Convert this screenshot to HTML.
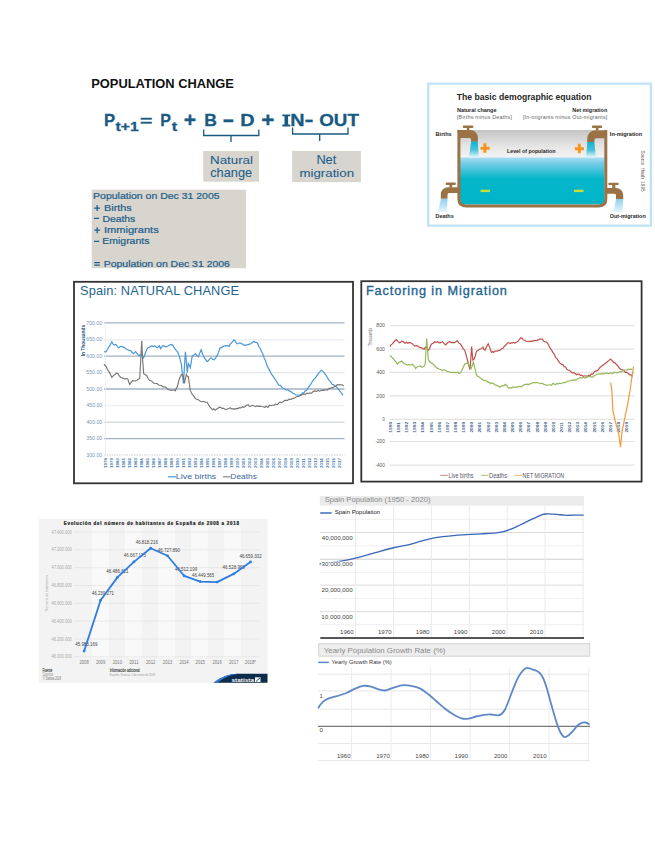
<!DOCTYPE html>
<html><head><meta charset="utf-8">
<style>
html,body{margin:0;padding:0;background:#fff;}
body{width:655px;height:848px;position:relative;overflow:hidden;}
svg{position:absolute;left:0;top:0;}
text{font-family:"Liberation Sans",sans-serif;white-space:pre;}
</style></head><body>
<svg width="655" height="848" viewBox="0 0 655 848">
<text transform="translate(91.26 87.50) scale(1.036 1)" font-size="12.43" font-weight="bold" fill="#111" >POPULATION CHANGE</text>
<text transform="translate(103.92 126.40) scale(0.966 1)" font-size="17.25" font-weight="bold" fill="#1a5a82" stroke="#1a5a82" stroke-width="0.3">P</text>
<text transform="translate(115.54 131.30) scale(1.303 1)" font-size="12.03" font-weight="bold" fill="#1a5a82" stroke="#1a5a82" stroke-width="0.3">t+1</text>
<text transform="translate(140.05 125.66) scale(1.438 1)" font-size="14.74" font-weight="bold" fill="#1a5a82" stroke="#1a5a82" stroke-width="0.3">=</text>
<text transform="translate(160.36 126.40) scale(0.926 1)" font-size="17.25" font-weight="bold" fill="#1a5a82" stroke="#1a5a82" stroke-width="0.3">P</text>
<text transform="translate(171.64 131.00) scale(1.321 1)" font-size="12.21" font-weight="bold" fill="#1a5a82" stroke="#1a5a82" stroke-width="0.3">t</text>
<text transform="translate(183.85 127.10) scale(1.059 1)" font-size="20.00" font-weight="bold" fill="#1a5a82" stroke="#1a5a82" stroke-width="0.3">+</text>
<text transform="translate(204.26 126.00) scale(1.052 1)" font-size="16.67" font-weight="bold" fill="#1a5a82" stroke="#1a5a82" stroke-width="0.3">B</text>
<text transform="translate(223.12 127.82) scale(0.738 1)" font-size="26.00" font-weight="bold" fill="#1a5a82" stroke="#1a5a82" stroke-width="0.3">–</text>
<text transform="translate(240.31 126.00) scale(1.190 1)" font-size="16.67" font-weight="bold" fill="#1a5a82" stroke="#1a5a82" stroke-width="0.3">D</text>
<text transform="translate(261.30 127.06) scale(1.163 1)" font-size="19.41" font-weight="bold" fill="#1a5a82" stroke="#1a5a82" stroke-width="0.3">+</text>
<path d="M282.3 114.5 H290.3 V116.3 H288.1 V124.6 H290.3 V126.4 H282.3 V124.6 H284.5 V116.3 H282.3 Z" fill="#1a5a82"/>
<text transform="translate(290.21 126.20) scale(1.169 1)" font-size="16.96" font-weight="bold" fill="#1a5a82" stroke="#1a5a82" stroke-width="0.3">N</text>
<text transform="translate(304.42 125.93) scale(1.412 1)" font-size="19.17" font-weight="bold" fill="#1a5a82" stroke="#1a5a82" stroke-width="0.3">-</text>
<text transform="translate(319.25 126.40) scale(1.105 1)" font-size="17.00" font-weight="bold" fill="#1a5a82" stroke="#1a5a82" stroke-width="0.3">OUT</text>
<path d="M203.7 129.5 V135.5 H258.8 V129.5 M231 135.5 V142" fill="none" stroke="#1a5a82" stroke-width="1.3"/>
<path d="M292.6 127.6 V134 H348 V127.6 M319.7 134 V140.9" fill="none" stroke="#1a5a82" stroke-width="1.3"/>
<rect x="203.2" y="151" width="55.8" height="30.7" fill="#d8d5cf"/>
<rect x="292.1" y="150.9" width="68.8" height="31.2" fill="#d8d5cf"/>
<text transform="translate(210.03 163.90) scale(1.137 1)" font-size="11.72" font-weight="normal" fill="#1d5f8a" stroke="#1d5f8a" stroke-width="0.08">Natural</text>
<text transform="translate(210.19 177.26) scale(0.981 1)" font-size="13.05" font-weight="normal" fill="#1d5f8a" stroke="#1d5f8a" stroke-width="0.08">change</text>
<text transform="translate(316.38 163.90) scale(1.063 1)" font-size="12.03" font-weight="normal" fill="#1d5f8a" stroke="#1d5f8a" stroke-width="0.08">Net</text>
<text transform="translate(299.44 177.27) scale(1.151 1)" font-size="11.55" font-weight="normal" fill="#1d5f8a" stroke="#1d5f8a" stroke-width="0.08">migration</text>
<rect x="91.7" y="189.7" width="154.4" height="78.5" fill="#d8d5cf"/>
<text transform="translate(93.06 199.40) scale(1.138 1)" font-size="9.24" font-weight="normal" fill="#1d5f8a" stroke="#1d5f8a" stroke-width="0.22">Population on Dec 31 2005</text>
<text transform="translate(104.03 210.65) scale(1.175 1)" font-size="9.24" font-weight="normal" fill="#1d5f8a" stroke="#1d5f8a" stroke-width="0.22">Births</text>
<text transform="translate(102.47 221.90) scale(1.123 1)" font-size="9.24" font-weight="normal" fill="#1d5f8a" stroke="#1d5f8a" stroke-width="0.22">Deaths</text>
<text transform="translate(104.00 233.15) scale(1.197 1)" font-size="9.24" font-weight="normal" fill="#1d5f8a" stroke="#1d5f8a" stroke-width="0.22">Immigrants</text>
<text transform="translate(102.26 244.40) scale(1.135 1)" font-size="9.24" font-weight="normal" fill="#1d5f8a" stroke="#1d5f8a" stroke-width="0.22">Emigrants</text>
<path d="M94.1 208 H100.1 M97.1 205 V211 M94 218.4 H99.1 M94.3 230.2 H100.1 M97.2 227.2 V233.2 M94 241.4 H99.2 M94.3 262.6 H99.8 M94.3 265.2 H99.8" stroke="#1d5f8a" stroke-width="1.25" fill="none"/>
<text transform="translate(103.76 266.90) scale(1.133 1)" font-size="9.24" font-weight="normal" fill="#1d5f8a" stroke="#1d5f8a" stroke-width="0.22">Population on Dec 31 2006</text>
<rect x="428.2" y="83.7" width="222.6" height="142" fill="#fff" stroke="#bfe4f6" stroke-width="2.3"/>
<defs>
<linearGradient id="air" x1="0" y1="0" x2="0" y2="1"><stop offset="0" stop-color="#c4c4c4"/><stop offset="0.6" stop-color="#e6e6e6"/><stop offset="1" stop-color="#f4f4f4"/></linearGradient>
<linearGradient id="wat" x1="0" y1="0" x2="0" y2="1"><stop offset="0" stop-color="#a8def4"/><stop offset="0.12" stop-color="#78cde8"/><stop offset="0.45" stop-color="#05b6c9"/><stop offset="1" stop-color="#00b4c7"/></linearGradient>
<linearGradient id="jet" x1="0" y1="0" x2="0" y2="1"><stop offset="0" stop-color="#10b2cc"/><stop offset="0.55" stop-color="#4cc4dc"/><stop offset="1" stop-color="#e8f7fb"/></linearGradient>
<linearGradient id="jet2" x1="0" y1="0" x2="0" y2="1"><stop offset="0" stop-color="#8fd0ee"/><stop offset="1" stop-color="#e6f5fb"/></linearGradient>
</defs>
<rect x="460" y="130" width="145" height="28" fill="url(#air)"/>
<path d="M460 157.5 H604.5 V199 Q604.5 204.5 599 204.5 H466 Q460 204.5 460 199 Z" fill="url(#wat)"/>
<path d="M458.9 129.9 V199 Q458.9 205.9 466 205.9 H599 Q605.8 205.9 605.8 199 V129.9" fill="none" stroke="#9a7246" stroke-width="3"/>
<path d="M457.3 130.1 H470.3 A7.6 7.6 0 0 1 477.9 137.7 V141.7 H471 V139.6 Q471 138 469.4 138 H459 Z" fill="#9a7246"/>
<rect x="466.8" y="127.5" width="2.5" height="3" fill="#9a7246"/><rect x="462.8" y="125.6" width="10.6" height="2.5" rx="1" fill="#9a7246"/>
<path d="M471.2 141.5 H477.8 L478.7 157.3 H468.9 Z" fill="url(#jet)"/>
<path d="M607 130.4 H595 A7.8 7.8 0 0 0 587.2 138.2 V142 H594.5 V139.9 Q594.5 138.3 596.1 138.3 H605 Z" fill="#9a7246"/>
<rect x="595.8" y="127.5" width="2.7" height="3" fill="#9a7246"/><rect x="591.9" y="125.5" width="10.2" height="2.5" rx="1" fill="#9a7246"/>
<path d="M587.4 142 H594.3 L596 157.3 H586 Z" fill="url(#jet)"/>
<path d="M458 187.2 H448 A7.2 7.2 0 0 0 440.8 194.4 V198.8 H447.5 V194.7 Q447.5 193.1 449.1 193.1 H458 Z" fill="#9a7246"/>
<rect x="449.4" y="184.5" width="2.8" height="3" fill="#9a7246"/><rect x="445.7" y="182.6" width="10.1" height="2.3" rx="1" fill="#9a7246"/>
<path d="M441 198.8 H447.5 L447 212 H438 Z" fill="url(#jet2)"/>
<path d="M606.5 187.9 H616 A7.2 7.2 0 0 1 623.2 195.1 V198.9 H616 V195.4 Q616 193.8 614.4 193.8 H606.5 Z" fill="#9a7246"/>
<rect x="612.2" y="184.7" width="3.2" height="3.3" fill="#9a7246"/><rect x="608.3" y="182.7" width="10.4" height="2.3" rx="1" fill="#9a7246"/>
<path d="M616 198.9 H623.2 L622.5 212 H613.5 Z" fill="url(#jet2)"/>
<path d="M484.9 143.3 V152.8 M480.5 148.2 H489.7" stroke="#f7941d" stroke-width="3"/>
<path d="M579.3 143.8 V153.3 M574.9 148.7 H584" stroke="#f7941d" stroke-width="3"/>
<path d="M480.5 190.9 H490" stroke="#c4df3a" stroke-width="2.4"/>
<path d="M573.9 190.9 H583.6" stroke="#c4df3a" stroke-width="2.4"/>
<text transform="translate(456.71 100.09) scale(0.951 1)" font-size="9.09" font-weight="bold" fill="#262626" >The basic demographic equation</text>
<text transform="translate(456.94 112.27) scale(1.115 1)" font-size="4.92" font-weight="bold" fill="#262626" >Natural change</text>
<text transform="translate(456.92 118.60) scale(1.150 1)" font-size="4.69" font-weight="normal" fill="#666"  letter-spacing="0.166">[Births minus Deaths]</text>
<text transform="translate(572.25 112.27) scale(1.106 1)" font-size="4.92" font-weight="bold" fill="#262626" >Net migration</text>
<text transform="translate(522.92 118.60) scale(1.150 1)" font-size="4.69" font-weight="normal" fill="#666"  letter-spacing="0.167">[In-migrants minus Out-migrants]</text>
<text transform="translate(435.54 135.70) scale(1.015 1)" font-size="5.52" font-weight="bold" fill="#262626" >Births</text>
<text transform="translate(609.84 135.95) scale(1.029 1)" font-size="5.45" font-weight="bold" fill="#262626" >In-migration</text>
<text transform="translate(435.54 218.40) scale(0.924 1)" font-size="5.93" font-weight="bold" fill="#262626" >Deaths</text>
<text transform="translate(609.78 218.30) scale(1.041 1)" font-size="5.24" font-weight="bold" fill="#262626" >Out-migration</text>
<text transform="translate(506.96 153.23) scale(0.953 1)" font-size="5.56" font-weight="bold" fill="#262626" >Level of population</text>
<g transform="translate(640.2 150.6) rotate(90)"><text transform="translate(-0.21 -0.76) scale(0.794 1)" font-size="5.85" font-weight="normal" fill="#555" >Source: Haub, 1995</text></g>
<rect x="74" y="281.8" width="279" height="201.5" fill="none" stroke="#333" stroke-width="1.8"/>
<text transform="translate(80.12 295.30) scale(1.000 1)" font-size="12.83" font-weight="normal" fill="#1f6590"  letter-spacing="0.109">Spain: NATURAL CHANGE</text>
<line x1="104" y1="322.9" x2="344.5" y2="322.9" stroke="#a3b1c4" stroke-width="1.4"/>
<line x1="104" y1="339.8" x2="344.5" y2="339.8" stroke="#eceff3" stroke-width="1.4"/>
<line x1="104" y1="356.1" x2="344.5" y2="356.1" stroke="#a3b1c4" stroke-width="1.4"/>
<line x1="104" y1="372.6" x2="344.5" y2="372.6" stroke="#e3e7ec" stroke-width="1.4"/>
<line x1="104" y1="389" x2="344.5" y2="389" stroke="#a3b1c4" stroke-width="1.4"/>
<line x1="104" y1="405.5" x2="344.5" y2="405.5" stroke="#f0f2f5" stroke-width="1.4"/>
<line x1="104" y1="422.2" x2="344.5" y2="422.2" stroke="#d6dde6" stroke-width="1.4"/>
<line x1="104" y1="438.6" x2="344.5" y2="438.6" stroke="#a3b1c4" stroke-width="1.4"/>
<line x1="104" y1="455" x2="344.5" y2="455" stroke="#c8ccd8" stroke-width="1" stroke-dasharray="1.5 1"/>
<line x1="105.5" y1="322" x2="105.5" y2="455" stroke="#e8ecf0" stroke-width="0.8"/>
<text transform="translate(86.24 324.65) scale(1.028 1)" font-size="5.07" font-weight="normal" fill="#3a6a9a" opacity="0.7">700.00</text>
<text transform="translate(86.24 341.15) scale(1.028 1)" font-size="5.07" font-weight="normal" fill="#3a6a9a" opacity="0.7">650.00</text>
<text transform="translate(86.24 357.65) scale(1.028 1)" font-size="5.07" font-weight="normal" fill="#3a6a9a" opacity="0.7">600.00</text>
<text transform="translate(86.29 374.15) scale(1.024 1)" font-size="5.07" font-weight="normal" fill="#3a6a9a" opacity="0.7">550.00</text>
<text transform="translate(86.29 390.65) scale(1.024 1)" font-size="5.07" font-weight="normal" fill="#3a6a9a" opacity="0.7">500.00</text>
<text transform="translate(86.40 407.15) scale(1.017 1)" font-size="5.07" font-weight="normal" fill="#3a6a9a" opacity="0.7">450.00</text>
<text transform="translate(86.40 423.65) scale(1.017 1)" font-size="5.07" font-weight="normal" fill="#3a6a9a" opacity="0.7">400.00</text>
<text transform="translate(86.29 440.15) scale(1.024 1)" font-size="5.07" font-weight="normal" fill="#3a6a9a" opacity="0.7">350.00</text>
<text transform="translate(86.29 456.65) scale(1.024 1)" font-size="5.07" font-weight="normal" fill="#3a6a9a" opacity="0.7">300.00</text>
<g transform="translate(85.3 356) rotate(-90)"><text transform="translate(-0.32 -0.05) scale(0.914 1)" font-size="5.31" font-weight="bold" fill="#2a5a8a" >In Thousands</text></g>
<g transform="translate(107.40 467.8) rotate(-90)"><text transform="translate(-0.27 0.00) scale(1.211 1)" font-size="3.71" font-weight="bold" fill="#2e6aa6" opacity="0.9">1978</text></g>
<g transform="translate(113.39 467.8) rotate(-90)"><text transform="translate(-0.27 0.00) scale(1.213 1)" font-size="3.71" font-weight="bold" fill="#2e6aa6" opacity="0.9">1979</text></g>
<g transform="translate(119.38 467.8) rotate(-90)"><text transform="translate(-0.27 0.00) scale(1.216 1)" font-size="3.71" font-weight="bold" fill="#2e6aa6" opacity="0.9">1980</text></g>
<g transform="translate(125.37 467.8) rotate(-90)"><text transform="translate(-0.27 0.00) scale(1.208 1)" font-size="3.71" font-weight="bold" fill="#2e6aa6" opacity="0.9">1981</text></g>
<g transform="translate(131.36 467.8) rotate(-90)"><text transform="translate(-0.27 0.00) scale(1.216 1)" font-size="3.71" font-weight="bold" fill="#2e6aa6" opacity="0.9">1982</text></g>
<g transform="translate(137.35 467.8) rotate(-90)"><text transform="translate(-0.27 0.00) scale(1.213 1)" font-size="3.71" font-weight="bold" fill="#2e6aa6" opacity="0.9">1983</text></g>
<g transform="translate(143.34 467.8) rotate(-90)"><text transform="translate(-0.27 0.00) scale(1.197 1)" font-size="3.71" font-weight="bold" fill="#2e6aa6" opacity="0.9">1984</text></g>
<g transform="translate(149.33 467.8) rotate(-90)"><text transform="translate(-0.27 0.00) scale(1.208 1)" font-size="3.71" font-weight="bold" fill="#2e6aa6" opacity="0.9">1985</text></g>
<g transform="translate(155.32 467.8) rotate(-90)"><text transform="translate(-0.27 0.00) scale(1.213 1)" font-size="3.71" font-weight="bold" fill="#2e6aa6" opacity="0.9">1986</text></g>
<g transform="translate(161.31 467.8) rotate(-90)"><text transform="translate(-0.27 0.00) scale(1.216 1)" font-size="3.71" font-weight="bold" fill="#2e6aa6" opacity="0.9">1987</text></g>
<g transform="translate(167.30 467.8) rotate(-90)"><text transform="translate(-0.27 0.00) scale(1.211 1)" font-size="3.71" font-weight="bold" fill="#2e6aa6" opacity="0.9">1988</text></g>
<g transform="translate(173.29 467.8) rotate(-90)"><text transform="translate(-0.27 0.00) scale(1.213 1)" font-size="3.71" font-weight="bold" fill="#2e6aa6" opacity="0.9">1989</text></g>
<g transform="translate(179.28 467.8) rotate(-90)"><text transform="translate(-0.27 0.00) scale(1.216 1)" font-size="3.71" font-weight="bold" fill="#2e6aa6" opacity="0.9">1990</text></g>
<g transform="translate(185.27 467.8) rotate(-90)"><text transform="translate(-0.27 0.00) scale(1.208 1)" font-size="3.71" font-weight="bold" fill="#2e6aa6" opacity="0.9">1991</text></g>
<g transform="translate(191.26 467.8) rotate(-90)"><text transform="translate(-0.27 0.00) scale(1.216 1)" font-size="3.71" font-weight="bold" fill="#2e6aa6" opacity="0.9">1992</text></g>
<g transform="translate(197.25 467.8) rotate(-90)"><text transform="translate(-0.27 0.00) scale(1.213 1)" font-size="3.71" font-weight="bold" fill="#2e6aa6" opacity="0.9">1993</text></g>
<g transform="translate(203.24 467.8) rotate(-90)"><text transform="translate(-0.27 0.00) scale(1.197 1)" font-size="3.71" font-weight="bold" fill="#2e6aa6" opacity="0.9">1994</text></g>
<g transform="translate(209.23 467.8) rotate(-90)"><text transform="translate(-0.27 0.00) scale(1.208 1)" font-size="3.71" font-weight="bold" fill="#2e6aa6" opacity="0.9">1995</text></g>
<g transform="translate(215.22 467.8) rotate(-90)"><text transform="translate(-0.27 0.00) scale(1.213 1)" font-size="3.71" font-weight="bold" fill="#2e6aa6" opacity="0.9">1996</text></g>
<g transform="translate(221.21 467.8) rotate(-90)"><text transform="translate(-0.27 0.00) scale(1.216 1)" font-size="3.71" font-weight="bold" fill="#2e6aa6" opacity="0.9">1997</text></g>
<g transform="translate(227.20 467.8) rotate(-90)"><text transform="translate(-0.27 0.00) scale(1.211 1)" font-size="3.71" font-weight="bold" fill="#2e6aa6" opacity="0.9">1998</text></g>
<g transform="translate(233.19 467.8) rotate(-90)"><text transform="translate(-0.27 0.00) scale(1.213 1)" font-size="3.71" font-weight="bold" fill="#2e6aa6" opacity="0.9">1999</text></g>
<g transform="translate(239.18 467.8) rotate(-90)"><text transform="translate(-0.16 0.00) scale(1.202 1)" font-size="3.71" font-weight="bold" fill="#2e6aa6" opacity="0.9">2000</text></g>
<g transform="translate(245.17 467.8) rotate(-90)"><text transform="translate(-0.16 0.00) scale(1.194 1)" font-size="3.71" font-weight="bold" fill="#2e6aa6" opacity="0.9">2001</text></g>
<g transform="translate(251.16 467.8) rotate(-90)"><text transform="translate(-0.16 0.00) scale(1.202 1)" font-size="3.71" font-weight="bold" fill="#2e6aa6" opacity="0.9">2002</text></g>
<g transform="translate(257.15 467.8) rotate(-90)"><text transform="translate(-0.16 0.00) scale(1.199 1)" font-size="3.71" font-weight="bold" fill="#2e6aa6" opacity="0.9">2003</text></g>
<g transform="translate(263.14 467.8) rotate(-90)"><text transform="translate(-0.15 0.00) scale(1.183 1)" font-size="3.71" font-weight="bold" fill="#2e6aa6" opacity="0.9">2004</text></g>
<g transform="translate(269.13 467.8) rotate(-90)"><text transform="translate(-0.16 0.00) scale(1.194 1)" font-size="3.71" font-weight="bold" fill="#2e6aa6" opacity="0.9">2005</text></g>
<g transform="translate(275.12 467.8) rotate(-90)"><text transform="translate(-0.16 0.00) scale(1.199 1)" font-size="3.71" font-weight="bold" fill="#2e6aa6" opacity="0.9">2006</text></g>
<g transform="translate(281.11 467.8) rotate(-90)"><text transform="translate(-0.16 0.00) scale(1.202 1)" font-size="3.71" font-weight="bold" fill="#2e6aa6" opacity="0.9">2007</text></g>
<g transform="translate(287.10 467.8) rotate(-90)"><text transform="translate(-0.16 0.00) scale(1.197 1)" font-size="3.71" font-weight="bold" fill="#2e6aa6" opacity="0.9">2008</text></g>
<g transform="translate(293.09 467.8) rotate(-90)"><text transform="translate(-0.16 0.00) scale(1.199 1)" font-size="3.71" font-weight="bold" fill="#2e6aa6" opacity="0.9">2009</text></g>
<g transform="translate(299.08 467.8) rotate(-90)"><text transform="translate(-0.16 0.00) scale(1.202 1)" font-size="3.71" font-weight="bold" fill="#2e6aa6" opacity="0.9">2010</text></g>
<g transform="translate(305.07 467.8) rotate(-90)"><text transform="translate(-0.16 0.00) scale(1.225 1)" font-size="3.71" font-weight="bold" fill="#2e6aa6" opacity="0.9">2011</text></g>
<g transform="translate(311.06 467.8) rotate(-90)"><text transform="translate(-0.16 0.00) scale(1.202 1)" font-size="3.71" font-weight="bold" fill="#2e6aa6" opacity="0.9">2012</text></g>
<g transform="translate(317.05 467.8) rotate(-90)"><text transform="translate(-0.16 0.00) scale(1.199 1)" font-size="3.71" font-weight="bold" fill="#2e6aa6" opacity="0.9">2013</text></g>
<g transform="translate(323.04 467.8) rotate(-90)"><text transform="translate(-0.15 0.00) scale(1.183 1)" font-size="3.71" font-weight="bold" fill="#2e6aa6" opacity="0.9">2014</text></g>
<g transform="translate(329.03 467.8) rotate(-90)"><text transform="translate(-0.16 0.00) scale(1.194 1)" font-size="3.71" font-weight="bold" fill="#2e6aa6" opacity="0.9">2015</text></g>
<g transform="translate(335.02 467.8) rotate(-90)"><text transform="translate(-0.16 0.00) scale(1.199 1)" font-size="3.71" font-weight="bold" fill="#2e6aa6" opacity="0.9">2016</text></g>
<g transform="translate(341.01 467.8) rotate(-90)"><text transform="translate(-0.16 0.00) scale(1.202 1)" font-size="3.71" font-weight="bold" fill="#2e6aa6" opacity="0.9">2017</text></g>
<line x1="168" y1="476.8" x2="176" y2="476.8" stroke="#4a97d8" stroke-width="1.2"/>
<text transform="translate(175.79 478.53) scale(1.281 1)" font-size="6.94" font-weight="normal" fill="#3a6a9a" >Live births</text>
<line x1="223" y1="476.8" x2="230.5" y2="476.8" stroke="#888" stroke-width="1.2"/>
<text transform="translate(230.33 478.53) scale(1.208 1)" font-size="6.94" font-weight="normal" fill="#3a6a9a" >Deaths</text>
<polyline points="104.0,351.7 105.0,351.8 106.0,351.7 107.5,349.5 108.9,346.8 110.4,344.7 111.9,341.8 112.9,343.8 113.9,344.8 114.9,344.9 115.9,344.4 117.4,346.6 118.9,347.8 120.3,346.5 121.8,346.4 123.3,347.1 124.8,347.8 126.3,349.3 127.8,349.7 129.3,350.4 130.8,350.7 132.2,352.7 133.7,353.7 134.7,352.2 135.7,351.7 137.2,353.7 138.7,355.7 140.2,354.9 141.7,354.7 142.7,356.3 143.7,357.7 145.1,353.8 146.6,349.7 147.9,348.0 149.3,347.2 150.6,346.4 151.9,345.9 153.3,346.5 154.6,345.8 156.1,347.1 157.6,347.8 158.6,346.4 159.5,345.8 160.5,348.7 161.5,347.6 162.5,345.8 164.0,345.9 165.5,346.8 167.0,346.4 168.5,345.8 170.0,344.7 171.5,344.4 172.9,345.5 174.4,347.8 175.9,350.2 177.4,351.7 178.4,353.9 179.4,356.7 180.4,360.6 181.4,364.6 182.4,374.1 183.4,383.5 184.4,367.6 185.4,351.7 186.4,362.1 187.3,372.6 188.3,363.6 189.3,365.3 190.3,367.6 191.3,361.6 192.3,355.7 193.8,355.3 195.3,353.7 196.8,355.6 198.3,356.7 199.8,352.9 201.2,349.7 202.7,354.3 204.2,357.7 205.7,359.7 207.2,361.6 208.5,360.5 209.9,358.6 211.2,357.7 212.6,359.2 214.1,359.7 215.6,357.9 217.1,355.7 218.6,352.3 220.1,347.8 221.3,347.8 222.6,346.6 223.8,346.1 225.0,345.8 226.3,345.6 227.7,345.8 229.0,346.4 230.2,344.2 231.4,342.9 232.7,341.6 233.9,339.8 235.4,341.2 236.9,343.8 238.4,343.5 239.9,342.8 241.2,343.4 242.6,344.2 243.9,345.2 245.2,345.4 246.5,344.9 247.8,344.8 249.3,344.1 250.8,343.8 252.3,342.5 253.8,341.2 255.1,342.3 256.5,342.4 257.8,343.8 259.0,346.8 260.2,348.2 261.5,351.5 262.7,353.7 264.0,357.7 265.4,360.4 266.7,364.6 267.9,367.4 269.1,369.4 270.4,372.1 271.6,374.5 273.1,376.2 274.6,378.5 276.1,380.9 277.6,383.5 279.0,385.1 280.4,385.3 281.7,387.0 283.1,388.3 284.5,388.8 286.0,390.0 287.5,389.9 289.0,390.6 290.5,391.4 291.8,392.3 293.0,393.4 294.2,393.5 295.5,394.8 297.0,395.0 298.4,395.0 299.9,394.9 301.4,394.4 302.6,392.8 303.9,392.9 305.1,390.9 306.4,390.4 307.9,388.0 309.4,386.1 310.8,384.2 312.3,381.5 313.8,379.4 315.3,378.2 316.8,375.9 318.3,373.7 319.8,371.9 321.3,370.2 322.5,371.1 323.8,372.3 325.0,373.8 326.2,375.5 327.7,378.0 329.2,380.6 330.7,381.8 332.2,384.5 333.5,384.6 334.9,386.4 336.2,386.5 337.6,388.3 339.0,389.9 340.3,391.5 341.7,393.7 343.1,395.4" fill="none" stroke="#4a97d8" stroke-width="1.2"/>
<polyline points="104.0,364.0 105.0,365.6 106.0,366.2 107.5,369.5 108.9,371.6 110.4,374.5 111.9,377.5 113.4,375.6 114.9,374.5 116.4,373.2 117.9,373.6 119.3,375.8 120.8,377.5 122.3,377.9 123.8,378.5 125.1,379.1 126.5,378.5 127.8,378.9 128.8,382.2 129.8,384.5 131.3,382.1 132.8,380.5 134.1,381.0 135.4,380.9 136.7,380.5 138.2,379.3 139.7,378.5 140.7,360.7 141.7,340.8 142.7,360.7 143.7,373.6 145.1,374.6 146.6,375.5 148.1,378.3 149.6,380.5 151.1,380.7 152.6,382.1 154.1,383.3 155.6,383.5 157.1,383.6 158.6,385.0 160.0,385.3 161.5,385.5 163.0,386.9 164.5,386.9 166.0,387.2 167.5,388.8 168.8,389.7 170.2,390.1 171.5,390.0 172.8,390.2 174.1,389.8 175.4,390.8 176.4,388.1 177.4,386.5 178.4,382.5 179.4,378.5 180.4,376.7 181.4,374.5 182.4,375.1 183.4,376.5 184.4,383.5 185.4,379.0 186.3,374.5 187.3,376.3 188.3,376.5 189.3,383.4 190.3,390.4 191.3,392.6 192.3,394.4 193.8,395.9 195.3,398.4 196.6,399.3 197.9,399.5 199.2,400.4 200.5,401.5 201.9,401.7 203.2,401.3 204.5,401.7 205.9,402.2 207.2,402.3 208.5,404.7 209.9,406.8 211.2,408.3 212.5,409.8 213.8,408.8 215.1,410.3 216.4,409.1 217.8,408.5 219.1,407.3 220.6,407.4 222.1,408.5 223.5,408.1 225.0,409.3 226.3,409.7 227.7,408.7 229.0,408.3 230.5,407.9 231.9,409.1 233.4,408.7 234.9,409.3 236.4,408.4 237.9,408.6 239.4,407.6 240.9,407.9 242.4,406.7 243.9,407.3 245.3,406.3 246.8,405.3 248.1,404.8 249.5,406.5 250.8,406.3 252.3,405.3 253.8,405.8 255.3,406.7 256.8,405.9 258.4,406.4 260.0,406.1 261.5,406.5 263.1,406.8 264.7,407.3 266.3,406.2 267.9,407.4 269.4,405.3 271.0,405.6 272.6,405.3 274.1,405.2 275.6,404.1 277.1,404.7 278.6,403.3 280.1,402.1 281.6,402.7 283.0,401.8 284.5,400.4 286.1,400.3 287.7,400.3 289.3,399.1 290.9,399.4 292.5,398.4 294.1,398.3 295.7,397.2 297.2,396.5 298.8,396.4 300.4,395.4 302.0,394.8 303.6,393.9 305.2,394.6 306.8,393.4 308.4,393.4 310.0,393.0 311.6,393.1 313.1,391.6 314.7,390.9 316.3,391.4 317.9,390.5 319.5,391.2 321.0,390.5 322.6,390.2 324.2,390.4 325.7,389.8 327.2,390.2 328.7,388.5 330.2,388.4 331.7,387.5 333.2,387.6 334.7,386.4 336.2,385.5 337.5,384.7 338.8,384.8 340.1,384.5 341.3,385.0 342.5,384.9 343.7,386.1" fill="none" stroke="#7a7672" stroke-width="1.15"/>
<rect x="361.3" y="281.2" width="280.3" height="200.4" fill="none" stroke="#333" stroke-width="1.8"/>
<text transform="translate(365.88 295.10) scale(1.000 1)" font-size="12.69" font-weight="normal" fill="#1f6590" stroke="#1f6590" stroke-width="0.35" letter-spacing="0.906">Factoring in Migration</text>
<line x1="389.8" y1="325.7" x2="634.7" y2="325.7" stroke="#e3e3e3" stroke-width="1.2"/>
<line x1="389.8" y1="349.2" x2="634.7" y2="349.2" stroke="#e3e3e3" stroke-width="1.2"/>
<line x1="389.8" y1="372.3" x2="634.7" y2="372.3" stroke="#e3e3e3" stroke-width="1.2"/>
<line x1="389.8" y1="395.8" x2="634.7" y2="395.8" stroke="#e3e3e3" stroke-width="1.2"/>
<line x1="389.8" y1="419.3" x2="634.7" y2="419.3" stroke="#e3e3e3" stroke-width="1.2"/>
<line x1="389.8" y1="441.5" x2="634.7" y2="441.5" stroke="#e3e3e3" stroke-width="1.2"/>
<line x1="389.8" y1="465.1" x2="634.7" y2="465.1" stroke="#e3e3e3" stroke-width="1.2"/>
<text transform="translate(376.37 327.45) scale(0.995 1)" font-size="5.07" font-weight="normal" fill="#555" >800</text>
<text transform="translate(376.35 350.95) scale(0.999 1)" font-size="5.07" font-weight="normal" fill="#555" >600</text>
<text transform="translate(376.50 374.05) scale(0.980 1)" font-size="5.07" font-weight="normal" fill="#555" >400</text>
<text transform="translate(376.35 397.55) scale(0.999 1)" font-size="5.07" font-weight="normal" fill="#555" >200</text>
<text transform="translate(382.43 421.05) scale(0.822 1)" font-size="5.07" font-weight="normal" fill="#555" >0</text>
<text transform="translate(375.39 443.25) scale(0.924 1)" font-size="5.07" font-weight="normal" fill="#555" >-200</text>
<text transform="translate(375.39 466.85) scale(0.924 1)" font-size="5.07" font-weight="normal" fill="#555" >-400</text>
<g transform="translate(372.5 346) rotate(-90)"><text transform="translate(-0.07 -0.05) scale(0.772 1)" font-size="4.76" font-weight="normal" fill="#666" >Thousands</text></g>
<g transform="translate(391.80 432.4) rotate(-90)"><text transform="translate(-0.29 0.00) scale(1.318 1)" font-size="3.71" font-weight="bold" fill="#3f5f88" >1990</text></g>
<g transform="translate(399.95 432.4) rotate(-90)"><text transform="translate(-0.29 0.00) scale(1.308 1)" font-size="3.71" font-weight="bold" fill="#3f5f88" >1991</text></g>
<g transform="translate(408.10 432.4) rotate(-90)"><text transform="translate(-0.29 0.00) scale(1.318 1)" font-size="3.71" font-weight="bold" fill="#3f5f88" >1992</text></g>
<g transform="translate(416.25 432.4) rotate(-90)"><text transform="translate(-0.29 0.00) scale(1.315 1)" font-size="3.71" font-weight="bold" fill="#3f5f88" >1993</text></g>
<g transform="translate(424.40 432.4) rotate(-90)"><text transform="translate(-0.29 0.00) scale(1.296 1)" font-size="3.71" font-weight="bold" fill="#3f5f88" >1994</text></g>
<g transform="translate(432.55 432.4) rotate(-90)"><text transform="translate(-0.29 0.00) scale(1.308 1)" font-size="3.71" font-weight="bold" fill="#3f5f88" >1995</text></g>
<g transform="translate(440.70 432.4) rotate(-90)"><text transform="translate(-0.29 0.00) scale(1.315 1)" font-size="3.71" font-weight="bold" fill="#3f5f88" >1996</text></g>
<g transform="translate(448.85 432.4) rotate(-90)"><text transform="translate(-0.29 0.00) scale(1.318 1)" font-size="3.71" font-weight="bold" fill="#3f5f88" >1997</text></g>
<g transform="translate(457.00 432.4) rotate(-90)"><text transform="translate(-0.29 0.00) scale(1.311 1)" font-size="3.71" font-weight="bold" fill="#3f5f88" >1998</text></g>
<g transform="translate(465.15 432.4) rotate(-90)"><text transform="translate(-0.29 0.00) scale(1.315 1)" font-size="3.71" font-weight="bold" fill="#3f5f88" >1999</text></g>
<g transform="translate(473.30 432.4) rotate(-90)"><text transform="translate(-0.17 0.00) scale(1.302 1)" font-size="3.71" font-weight="bold" fill="#3f5f88" >2000</text></g>
<g transform="translate(481.45 432.4) rotate(-90)"><text transform="translate(-0.17 0.00) scale(1.293 1)" font-size="3.71" font-weight="bold" fill="#3f5f88" >2001</text></g>
<g transform="translate(489.60 432.4) rotate(-90)"><text transform="translate(-0.17 0.00) scale(1.302 1)" font-size="3.71" font-weight="bold" fill="#3f5f88" >2002</text></g>
<g transform="translate(497.75 432.4) rotate(-90)"><text transform="translate(-0.17 0.00) scale(1.299 1)" font-size="3.71" font-weight="bold" fill="#3f5f88" >2003</text></g>
<g transform="translate(505.90 432.4) rotate(-90)"><text transform="translate(-0.17 0.00) scale(1.281 1)" font-size="3.71" font-weight="bold" fill="#3f5f88" >2004</text></g>
<g transform="translate(514.05 432.4) rotate(-90)"><text transform="translate(-0.17 0.00) scale(1.293 1)" font-size="3.71" font-weight="bold" fill="#3f5f88" >2005</text></g>
<g transform="translate(522.20 432.4) rotate(-90)"><text transform="translate(-0.17 0.00) scale(1.299 1)" font-size="3.71" font-weight="bold" fill="#3f5f88" >2006</text></g>
<g transform="translate(530.35 432.4) rotate(-90)"><text transform="translate(-0.17 0.00) scale(1.302 1)" font-size="3.71" font-weight="bold" fill="#3f5f88" >2007</text></g>
<g transform="translate(538.50 432.4) rotate(-90)"><text transform="translate(-0.17 0.00) scale(1.296 1)" font-size="3.71" font-weight="bold" fill="#3f5f88" >2008</text></g>
<g transform="translate(546.65 432.4) rotate(-90)"><text transform="translate(-0.17 0.00) scale(1.299 1)" font-size="3.71" font-weight="bold" fill="#3f5f88" >2009</text></g>
<g transform="translate(554.80 432.4) rotate(-90)"><text transform="translate(-0.17 0.00) scale(1.302 1)" font-size="3.71" font-weight="bold" fill="#3f5f88" >2010</text></g>
<g transform="translate(562.95 432.4) rotate(-90)"><text transform="translate(-0.17 0.00) scale(1.327 1)" font-size="3.71" font-weight="bold" fill="#3f5f88" >2011</text></g>
<g transform="translate(571.10 432.4) rotate(-90)"><text transform="translate(-0.17 0.00) scale(1.302 1)" font-size="3.71" font-weight="bold" fill="#3f5f88" >2012</text></g>
<g transform="translate(579.25 432.4) rotate(-90)"><text transform="translate(-0.17 0.00) scale(1.299 1)" font-size="3.71" font-weight="bold" fill="#3f5f88" >2013</text></g>
<g transform="translate(587.40 432.4) rotate(-90)"><text transform="translate(-0.17 0.00) scale(1.281 1)" font-size="3.71" font-weight="bold" fill="#3f5f88" >2014</text></g>
<g transform="translate(595.55 432.4) rotate(-90)"><text transform="translate(-0.17 0.00) scale(1.293 1)" font-size="3.71" font-weight="bold" fill="#3f5f88" >2015</text></g>
<g transform="translate(603.70 432.4) rotate(-90)"><text transform="translate(-0.17 0.00) scale(1.299 1)" font-size="3.71" font-weight="bold" fill="#3f5f88" >2016</text></g>
<g transform="translate(611.85 432.4) rotate(-90)"><text transform="translate(-0.17 0.00) scale(1.302 1)" font-size="3.71" font-weight="bold" fill="#3f5f88" >2017</text></g>
<g transform="translate(620.00 432.4) rotate(-90)"><text transform="translate(-0.17 0.00) scale(1.296 1)" font-size="3.71" font-weight="bold" fill="#3f5f88" >2018</text></g>
<g transform="translate(628.15 432.4) rotate(-90)"><text transform="translate(-0.17 0.00) scale(1.299 1)" font-size="3.71" font-weight="bold" fill="#3f5f88" >2019</text></g>
<line x1="440.1" y1="475.4" x2="447.7" y2="475.4" stroke="#d99594" stroke-width="1.2"/>
<text transform="translate(448.56 477.53) scale(0.837 1)" font-size="6.53" font-weight="normal" fill="#556" >Live births</text>
<line x1="481" y1="475.4" x2="488.5" y2="475.4" stroke="#b5cf8c" stroke-width="1.2"/>
<text transform="translate(489.04 477.53) scale(0.877 1)" font-size="6.53" font-weight="normal" fill="#556" >Deaths</text>
<line x1="514.5" y1="475.4" x2="522" y2="475.4" stroke="#f5bd82" stroke-width="1.2"/>
<text transform="translate(522.58 477.53) scale(0.783 1)" font-size="6.76" font-weight="normal" fill="#556" >NET MIGRATION</text>
<polyline points="389.9,346.6 391.0,344.9 392.0,344.1 393.1,342.8 394.7,341.0 396.3,339.6 397.9,341.4 399.5,342.8 400.6,342.2 401.7,341.1 403.3,341.5 404.9,343.2 406.3,342.2 407.8,343.2 409.2,342.4 410.6,342.8 412.0,343.6 413.4,344.9 414.8,346.1 416.3,345.6 417.7,346.0 419.1,347.2 420.6,347.4 422.0,348.1 423.1,348.9 424.1,349.2 425.2,347.6 426.3,347.1 427.4,348.9 428.4,350.3 429.5,348.8 430.5,346.1 431.6,343.9 433.2,343.2 434.8,341.7 436.2,342.3 437.7,341.7 439.1,342.8 440.7,342.7 442.3,341.7 443.9,343.4 445.5,344.9 446.9,343.5 448.4,342.0 449.8,341.7 451.2,342.7 452.6,342.4 454.0,342.8 455.6,342.1 457.2,340.6 458.8,342.9 460.4,343.9 461.8,346.4 463.3,348.8 464.7,350.3 465.8,353.8 466.9,357.7 467.9,362.0 469.0,366.3 470.1,369.5 471.6,346.6 472.8,359.9 474.3,358.8 475.4,355.5 476.5,351.3 478.1,350.2 479.7,349.2 481.3,348.8 482.9,347.1 483.9,349.3 485.0,350.3 486.6,346.5 488.2,343.9 489.8,347.6 491.4,352.4 492.5,351.6 493.5,352.4 494.6,351.3 495.9,351.0 497.1,351.1 498.4,350.4 499.6,350.5 500.7,349.7 501.9,348.8 503.0,348.2 504.5,346.2 506.1,344.8 507.6,342.9 509.0,342.9 510.4,343.3 511.9,342.9 513.3,342.5 514.5,343.0 515.6,342.7 516.8,342.0 518.1,341.4 519.3,339.5 520.6,337.9 522.0,338.1 523.4,340.0 524.8,340.2 526.3,341.3 527.8,341.6 529.3,341.3 530.8,341.2 532.2,341.3 533.6,340.3 535.1,340.6 536.5,340.7 538.0,339.9 539.4,339.1 540.8,339.0 542.2,339.1 543.6,341.1 545.1,342.0 546.5,342.0 548.0,343.8 549.6,347.3 551.1,349.3 552.6,351.9 554.2,354.1 555.7,357.4 557.1,358.8 558.5,361.2 560.0,363.1 561.4,364.2 562.8,364.6 564.2,366.7 565.5,367.0 566.9,369.2 568.3,370.0 569.7,370.4 571.0,372.0 572.4,372.8 573.7,372.7 575.1,373.4 576.5,374.7 577.8,374.1 579.2,374.2 580.5,375.6 581.9,375.2 583.2,376.4 584.6,375.8 585.9,376.0 587.3,376.2 588.6,375.3 590.0,375.7 591.5,373.8 592.9,374.0 594.3,372.0 595.8,371.1 597.2,370.7 598.5,369.5 599.9,367.5 601.2,366.5 602.6,365.4 604.2,364.2 605.8,363.1 607.4,361.7 609.0,360.4 610.6,359.0 612.1,360.6 613.7,362.4 615.2,363.1 616.6,364.7 618.0,366.2 619.5,368.3 620.9,369.5 622.4,369.8 623.8,370.5 625.2,372.3 626.7,372.2 628.1,373.4 629.5,374.6 631.0,374.9 632.4,376.8" fill="none" stroke="#c0504d" stroke-width="1.2"/>
<polyline points="389.9,355.6 391.0,356.2 392.1,357.7 393.4,358.7 394.8,360.8 396.1,362.0 397.4,364.2 398.8,362.4 400.3,361.9 401.7,361.0 403.1,362.7 404.6,363.6 406.0,364.2 407.4,365.0 408.8,364.4 410.2,365.2 411.3,364.8 412.4,364.2 413.5,365.2 414.5,366.5 415.6,368.4 417.2,366.7 418.8,366.3 420.1,365.8 421.5,367.0 422.8,366.8 424.1,366.3 425.2,364.2 426.7,338.5 427.5,349.2 428.4,359.9 429.5,361.5 430.5,362.5 431.6,363.1 433.0,364.0 434.5,365.7 435.9,367.4 437.2,368.1 438.5,368.8 439.9,369.5 441.2,369.5 442.6,370.5 444.1,369.6 445.5,370.6 447.1,371.3 448.7,371.9 450.3,372.2 451.9,372.7 453.3,372.2 454.8,372.7 456.2,372.7 457.6,372.0 459.0,373.4 460.4,372.7 461.8,370.5 463.3,367.1 464.7,364.2 466.3,363.3 467.9,363.1 469.0,365.5 470.0,366.7 471.1,368.4 472.2,365.8 473.3,362.0 474.9,368.4 476.5,374.8 477.8,376.4 479.1,377.0 480.5,377.9 481.8,379.1 483.4,380.1 485.0,380.6 486.6,381.0 488.2,382.3 489.5,382.4 490.8,383.7 492.0,382.9 493.3,383.3 494.6,384.5 495.9,385.4 497.1,385.4 498.4,386.5 499.6,387.1 501.0,386.4 502.5,385.5 503.9,385.9 505.3,384.4 506.4,385.2 507.6,386.9 508.7,388.3 510.1,387.6 511.5,388.0 512.8,387.2 514.2,387.1 515.6,387.1 517.0,387.3 518.4,386.4 519.7,386.5 521.1,386.9 522.5,386.0 524.0,384.9 525.5,384.4 527.0,384.2 528.6,384.6 530.1,383.9 531.6,383.2 533.1,382.6 534.7,382.5 536.2,382.6 537.7,382.5 539.3,383.3 540.8,383.7 542.3,383.2 543.9,384.4 545.4,384.9 546.9,385.2 548.5,385.0 550.0,384.8 551.4,385.3 552.7,383.6 554.1,383.8 555.4,384.7 556.8,383.7 558.2,383.9 559.6,383.1 560.9,383.7 562.3,383.0 563.7,382.6 565.2,382.7 566.8,381.5 568.3,381.0 569.8,381.0 571.4,380.1 572.9,380.3 574.4,379.7 575.9,380.3 577.5,378.9 579.0,378.0 580.5,377.7 582.0,378.0 583.5,377.3 585.1,378.1 586.6,377.2 588.1,376.9 589.7,376.4 591.2,376.8 592.7,377.1 594.2,375.8 595.8,375.0 597.3,374.3 598.8,373.8 600.3,374.1 601.8,373.5 603.4,374.1 604.9,373.2 606.4,372.9 608.0,373.5 609.5,373.4 611.0,372.8 612.6,373.8 614.1,372.2 615.6,372.6 617.2,372.8 618.7,372.2 620.1,371.6 621.4,372.1 622.8,370.8 624.1,370.0 625.5,370.0 626.9,369.8 628.3,369.1 629.6,369.6 631.0,369.2 632.4,369.5" fill="none" stroke="#94b85a" stroke-width="1.2"/>
<polyline points="610.6,382.6 611.8,390.0 612.9,410.6 615.2,420.9 618.7,433.5 620.5,447.2 622.1,431.2 624.4,419.8 627.8,403.7 630.1,390.0 633.5,366.5" fill="none" stroke="#f39a3c" stroke-width="1.2"/>
<rect x="38.7" y="518.7" width="229" height="164" fill="#f3f3f3"/>
<rect x="92" y="527" width="16.7" height="131" fill="#f9f9f9"/>
<rect x="125" y="527" width="16.7" height="131" fill="#f9f9f9"/>
<rect x="158" y="527" width="16.7" height="131" fill="#f9f9f9"/>
<rect x="191" y="527" width="16.7" height="131" fill="#f9f9f9"/>
<rect x="224" y="527" width="16.7" height="131" fill="#f9f9f9"/>
<line x1="74.4" y1="532.0" x2="259.5" y2="532.0" stroke="#dddddd" stroke-width="0.8" stroke-dasharray="1.2 0.5"/>
<line x1="74.4" y1="549.8" x2="259.5" y2="549.8" stroke="#dddddd" stroke-width="0.8" stroke-dasharray="1.2 0.5"/>
<line x1="74.4" y1="567.7" x2="259.5" y2="567.7" stroke="#dddddd" stroke-width="0.8" stroke-dasharray="1.2 0.5"/>
<line x1="74.4" y1="585.5" x2="259.5" y2="585.5" stroke="#dddddd" stroke-width="0.8" stroke-dasharray="1.2 0.5"/>
<line x1="74.4" y1="603.3" x2="259.5" y2="603.3" stroke="#dddddd" stroke-width="0.8" stroke-dasharray="1.2 0.5"/>
<line x1="74.4" y1="621.1" x2="259.5" y2="621.1" stroke="#dddddd" stroke-width="0.8" stroke-dasharray="1.2 0.5"/>
<line x1="74.4" y1="639.0" x2="259.5" y2="639.0" stroke="#dddddd" stroke-width="0.8" stroke-dasharray="1.2 0.5"/>
<line x1="74.4" y1="656.8" x2="259.5" y2="656.8" stroke="#dddddd" stroke-width="0.8" stroke-dasharray="1.2 0.5"/>
<text transform="translate(51.42 533.65) scale(0.848 1)" font-size="4.79" font-weight="normal" fill="#a8a8a8" >47.400.000</text>
<text transform="translate(51.42 551.48) scale(0.848 1)" font-size="4.79" font-weight="normal" fill="#a8a8a8" >47.200.000</text>
<text transform="translate(51.42 569.31) scale(0.848 1)" font-size="4.79" font-weight="normal" fill="#a8a8a8" >47.000.000</text>
<text transform="translate(51.42 587.14) scale(0.848 1)" font-size="4.79" font-weight="normal" fill="#a8a8a8" >46.800.000</text>
<text transform="translate(51.42 604.97) scale(0.848 1)" font-size="4.79" font-weight="normal" fill="#a8a8a8" >46.600.000</text>
<text transform="translate(51.42 622.80) scale(0.848 1)" font-size="4.79" font-weight="normal" fill="#a8a8a8" >46.400.000</text>
<text transform="translate(51.42 640.63) scale(0.848 1)" font-size="4.79" font-weight="normal" fill="#a8a8a8" >46.200.000</text>
<text transform="translate(51.42 658.46) scale(0.848 1)" font-size="4.79" font-weight="normal" fill="#a8a8a8" >46.000.000</text>
<text transform="translate(79.39 663.95) scale(0.855 1)" font-size="4.93" font-weight="normal" fill="#777" >2008</text>
<text transform="translate(95.89 663.95) scale(0.857 1)" font-size="4.93" font-weight="normal" fill="#777" >2009</text>
<text transform="translate(112.69 663.95) scale(0.853 1)" font-size="4.93" font-weight="normal" fill="#777" >2010</text>
<text transform="translate(129.18 663.95) scale(0.888 1)" font-size="4.93" font-weight="normal" fill="#777" >2011</text>
<text transform="translate(145.99 663.95) scale(0.859 1)" font-size="4.93" font-weight="normal" fill="#777" >2012</text>
<text transform="translate(162.79 663.95) scale(0.855 1)" font-size="4.93" font-weight="normal" fill="#777" >2013</text>
<text transform="translate(179.39 663.95) scale(0.851 1)" font-size="4.93" font-weight="normal" fill="#777" >2014</text>
<text transform="translate(195.59 663.95) scale(0.855 1)" font-size="4.93" font-weight="normal" fill="#777" >2015</text>
<text transform="translate(212.39 663.95) scale(0.855 1)" font-size="4.93" font-weight="normal" fill="#777" >2016</text>
<text transform="translate(228.99 663.95) scale(0.859 1)" font-size="4.93" font-weight="normal" fill="#777" >2017</text>
<text transform="translate(244.78 663.95) scale(0.875 1)" font-size="4.93" font-weight="normal" fill="#777" >2018*</text>
<text transform="translate(75.21 646.25) scale(0.878 1)" font-size="5.07" font-weight="normal" fill="#444" >45.983.169</text>
<text transform="translate(91.71 595.45) scale(0.878 1)" font-size="5.07" font-weight="normal" fill="#444" >46.239.271</text>
<text transform="translate(106.31 573.45) scale(0.878 1)" font-size="5.07" font-weight="normal" fill="#444" >46.486.621</text>
<text transform="translate(123.81 557.15) scale(0.877 1)" font-size="5.07" font-weight="normal" fill="#444" >46.667.175</text>
<text transform="translate(135.71 543.85) scale(0.877 1)" font-size="5.07" font-weight="normal" fill="#444" >46.818.216</text>
<text transform="translate(157.81 551.85) scale(0.877 1)" font-size="5.07" font-weight="normal" fill="#444" >46.727.890</text>
<text transform="translate(174.91 570.95) scale(0.878 1)" font-size="5.07" font-weight="normal" fill="#444" >46.512.199</text>
<text transform="translate(192.11 576.65) scale(0.877 1)" font-size="5.07" font-weight="normal" fill="#444" >46.449.565</text>
<text transform="translate(222.61 569.05) scale(0.877 1)" font-size="5.07" font-weight="normal" fill="#444" >46.528.966</text>
<text transform="translate(239.41 557.55) scale(0.879 1)" font-size="5.07" font-weight="normal" fill="#444" >46.659.302</text>
<polyline points="84.1,651.1 100.6,600.2 117.4,577.4 133.9,561.9 150.7,548.2 167.5,555.8 184.1,575.8 200.3,581.6 217.1,582.1 233.7,573.9 250.5,561.9" fill="none" stroke="#2f7de1" stroke-width="1.8" stroke-linejoin="round"/>
<circle cx="84.1" cy="651.1" r="1.4" fill="#2f7de1"/>
<circle cx="100.6" cy="600.2" r="1.4" fill="#2f7de1"/>
<circle cx="117.4" cy="577.4" r="1.4" fill="#2f7de1"/>
<circle cx="133.9" cy="561.9" r="1.4" fill="#2f7de1"/>
<circle cx="150.7" cy="548.2" r="1.4" fill="#2f7de1"/>
<circle cx="167.5" cy="555.8" r="1.4" fill="#2f7de1"/>
<circle cx="184.1" cy="575.8" r="1.4" fill="#2f7de1"/>
<circle cx="200.3" cy="581.6" r="1.4" fill="#2f7de1"/>
<circle cx="217.1" cy="582.1" r="1.4" fill="#2f7de1"/>
<circle cx="233.7" cy="573.9" r="1.4" fill="#2f7de1"/>
<circle cx="250.5" cy="561.9" r="1.4" fill="#2f7de1"/>
<text transform="translate(63.71 524.57) scale(1.000 1)" font-size="4.44" font-weight="bold" fill="#1a1a1a" stroke="#1a1a1a" stroke-width="0.2" letter-spacing="0.745">Evolución del número de habitantes de España de 2008 a 2018</text>
<g transform="translate(48.5 611) rotate(-90)"><text transform="translate(-0.30 -0.04) scale(0.862 1)" font-size="4.30" font-weight="normal" fill="#aaa" >Número de habitantes</text></g>
<text transform="translate(42.45 671.95) scale(0.623 1)" font-size="5.00" font-weight="normal" fill="#444" stroke="#444" stroke-width="0.15">Fuente</text>
<text transform="translate(42.56 676.46) scale(0.697 1)" font-size="4.49" font-weight="normal" fill="#999" >Statista</text>
<text transform="translate(42.66 680.26) scale(0.600 1)" font-size="4.49" font-weight="normal" fill="#777" >© Statista 2018</text>
<text transform="translate(109.72 671.95) scale(0.669 1)" font-size="4.70" font-weight="normal" fill="#444" stroke="#444" stroke-width="0.15">Información adicional:</text>
<text transform="translate(109.78 675.76) scale(0.778 1)" font-size="3.53" font-weight="normal" fill="#999" >España; Statista; 1 de enero de 2018</text>
<path d="M213.5 682.7 Q225 673.7 238 673.7 H267.5 V682.7 Z" fill="#0d2b4a"/>
<path d="M213.5 682.7 Q225 673.7 238 673.7 H239 Q227.5 674.9 217 682.7 Z" fill="#2f7de1"/>
<text transform="translate(231.47 681.94) scale(1.133 1)" font-size="5.71" font-weight="bold" fill="#fff" >statista</text>
<path d="M255 677.3 H260.5 V682 H255 Z" fill="#fff"/><path d="M256 681.5 L260 677.8" stroke="#0d2b4a" stroke-width="0.9"/>
<rect x="319.8" y="496" width="264.2" height="9.7" fill="#ebebeb"/>
<text transform="translate(324.66 501.99) scale(1.136 1)" font-size="6.74" font-weight="normal" fill="#8a8a8a" >Spain Population (1950 - 2020)</text>
<line x1="320" y1="519.3" x2="584" y2="519.3" stroke="#f0f0f0" stroke-width="1"/>
<line x1="320" y1="532.5" x2="584" y2="532.5" stroke="#dcdcdc" stroke-width="1"/>
<line x1="320" y1="545.8" x2="584" y2="545.8" stroke="#f0f0f0" stroke-width="1"/>
<line x1="320" y1="559.2" x2="584" y2="559.2" stroke="#cdcdcd" stroke-width="1"/>
<line x1="320" y1="572.4" x2="584" y2="572.4" stroke="#f0f0f0" stroke-width="1"/>
<line x1="320" y1="585.1" x2="584" y2="585.1" stroke="#dcdcdc" stroke-width="1"/>
<line x1="320" y1="598.5" x2="584" y2="598.5" stroke="#f0f0f0" stroke-width="1"/>
<line x1="320" y1="611.7" x2="584" y2="611.7" stroke="#dcdcdc" stroke-width="1"/>
<line x1="320" y1="624.7" x2="584" y2="624.7" stroke="#f0f0f0" stroke-width="1"/>
<line x1="355.6" y1="506" x2="355.6" y2="637" stroke="#ebebeb" stroke-width="1"/>
<line x1="393.5" y1="506" x2="393.5" y2="637" stroke="#ebebeb" stroke-width="1"/>
<line x1="431.4" y1="506" x2="431.4" y2="637" stroke="#ebebeb" stroke-width="1"/>
<line x1="469.3" y1="506" x2="469.3" y2="637" stroke="#ebebeb" stroke-width="1"/>
<line x1="507.2" y1="506" x2="507.2" y2="637" stroke="#ebebeb" stroke-width="1"/>
<line x1="545.1" y1="506" x2="545.1" y2="637" stroke="#ebebeb" stroke-width="1"/>
<line x1="583.0" y1="506" x2="583.0" y2="637" stroke="#ebebeb" stroke-width="1"/>
<line x1="320.3" y1="638" x2="584" y2="638" stroke="#555" stroke-width="2"/>
<line x1="320.2" y1="513" x2="331.7" y2="513" stroke="#3d6cc0" stroke-width="1.5"/>
<text transform="translate(334.63 514.26) scale(1.027 1)" font-size="5.88" font-weight="normal" fill="#222" >Spain Population</text>
<text transform="translate(340.04 634.25) scale(1.212 1)" font-size="5.07" font-weight="normal" fill="#444" >1960</text>
<text transform="translate(377.94 634.25) scale(1.212 1)" font-size="5.07" font-weight="normal" fill="#444" >1970</text>
<text transform="translate(415.84 634.25) scale(1.212 1)" font-size="5.07" font-weight="normal" fill="#444" >1980</text>
<text transform="translate(453.74 634.25) scale(1.212 1)" font-size="5.07" font-weight="normal" fill="#444" >1990</text>
<text transform="translate(491.80 634.25) scale(1.198 1)" font-size="5.07" font-weight="normal" fill="#444" >2000</text>
<text transform="translate(529.70 634.25) scale(1.198 1)" font-size="5.07" font-weight="normal" fill="#444" >2010</text>
<path d="M319.6 564.0 C321.3 563.8 326.6 563.1 330.0 562.6 C333.4 562.1 335.9 561.9 340.2 561.2 C344.4 560.5 349.5 559.7 355.5 558.2 C361.5 556.7 369.6 554.2 376.1 552.4 C382.6 550.6 388.8 548.8 394.4 547.5 C400.0 546.2 405.6 545.5 410.0 544.4 C414.4 543.3 417.3 542.1 421.0 541.1 C424.7 540.1 428.3 539.1 432.0 538.4 C435.7 537.6 439.0 537.1 443.0 536.6 C447.0 536.1 451.2 535.7 455.8 535.3 C460.4 534.9 465.3 534.7 470.5 534.4 C475.7 534.1 482.4 533.8 487.0 533.5 C491.6 533.2 495.3 533.0 498.0 532.7 C500.7 532.4 501.3 532.2 503.4 531.6 C505.5 531.0 508.0 530.3 510.8 529.2 C513.6 528.1 516.8 526.5 520.0 525.0 C523.2 523.5 526.5 521.8 530.0 520.1 C533.5 518.5 538.5 516.1 541.2 515.1 C543.9 514.1 543.5 514.1 546.0 514.0 C548.5 513.9 553.5 514.1 556.5 514.3 C559.5 514.5 561.3 515.1 564.1 515.2 C566.9 515.4 570.0 515.2 573.3 515.2 C576.6 515.2 582.0 515.1 583.7 515.1" fill="none" stroke="#3a66b8" stroke-width="1.3"/>
<text transform="translate(321.68 539.83) scale(1.051 1)" font-size="5.90" font-weight="normal" fill="#444" stroke="#fff" stroke-width="1.6" paint-order="stroke">40,000,000</text>
<text transform="translate(321.55 565.73) scale(1.055 1)" font-size="5.90" font-weight="normal" fill="#444" stroke="#fff" stroke-width="1.6" paint-order="stroke">30,000,000</text>
<text transform="translate(321.49 591.83) scale(1.057 1)" font-size="5.90" font-weight="normal" fill="#444" stroke="#fff" stroke-width="1.6" paint-order="stroke">20,000,000</text>
<text transform="translate(321.33 618.83) scale(1.062 1)" font-size="5.90" font-weight="normal" fill="#444" stroke="#fff" stroke-width="1.6" paint-order="stroke">10,000,000</text>
<rect x="318.7" y="643.7" width="271" height="12.5" fill="#eeeeee" stroke="#d4d4d4" stroke-width="1"/>
<text transform="translate(323.80 652.93) scale(1.051 1)" font-size="7.49" font-weight="normal" fill="#8a8a8a" >Yearly Population Growth Rate (%)</text>
<line x1="318" y1="674.2" x2="590" y2="674.2" stroke="#e6e6e6" stroke-width="1"/>
<line x1="318" y1="690.9" x2="590" y2="690.9" stroke="#e6e6e6" stroke-width="1"/>
<line x1="318" y1="709.2" x2="590" y2="709.2" stroke="#e6e6e6" stroke-width="1"/>
<line x1="318" y1="743.6" x2="590" y2="743.6" stroke="#e6e6e6" stroke-width="1"/>
<line x1="318" y1="760.6" x2="590" y2="760.6" stroke="#e6e6e6" stroke-width="1"/>
<line x1="351.6" y1="668" x2="351.6" y2="760" stroke="#ececec" stroke-width="1"/>
<line x1="391.1" y1="668" x2="391.1" y2="760" stroke="#ececec" stroke-width="1"/>
<line x1="430.6" y1="668" x2="430.6" y2="760" stroke="#ececec" stroke-width="1"/>
<line x1="470.1" y1="668" x2="470.1" y2="760" stroke="#ececec" stroke-width="1"/>
<line x1="509.6" y1="668" x2="509.6" y2="760" stroke="#ececec" stroke-width="1"/>
<line x1="549.1" y1="668" x2="549.1" y2="760" stroke="#ececec" stroke-width="1"/>
<line x1="588.6" y1="668" x2="588.6" y2="760" stroke="#ececec" stroke-width="1"/>
<line x1="318" y1="726.4" x2="590" y2="726.4" stroke="#777" stroke-width="1.2"/>
<line x1="318.2" y1="662.4" x2="328.9" y2="662.4" stroke="#5b84c4" stroke-width="1.5"/>
<text transform="translate(331.56 663.94) scale(1.146 1)" font-size="5.03" font-weight="normal" fill="#333" >Yearly Growth Rate (%)</text>
<text transform="translate(336.94 757.75) scale(1.212 1)" font-size="5.07" font-weight="normal" fill="#444" >1960</text>
<text transform="translate(376.14 757.75) scale(1.212 1)" font-size="5.07" font-weight="normal" fill="#444" >1970</text>
<text transform="translate(415.34 757.75) scale(1.212 1)" font-size="5.07" font-weight="normal" fill="#444" >1980</text>
<text transform="translate(454.54 757.75) scale(1.212 1)" font-size="5.07" font-weight="normal" fill="#444" >1990</text>
<text transform="translate(493.90 757.75) scale(1.198 1)" font-size="5.07" font-weight="normal" fill="#444" >2000</text>
<text transform="translate(533.10 757.75) scale(1.198 1)" font-size="5.07" font-weight="normal" fill="#444" >2010</text>
<text transform="translate(319.57 697.60) scale(1.102 1)" font-size="5.22" font-weight="normal" fill="#444" >1</text>
<text transform="translate(319.55 732.35) scale(1.233 1)" font-size="5.07" font-weight="normal" fill="#444" >0</text>
<path d="M318.2 708.3 C318.6 707.7 319.3 705.9 320.5 704.5 C321.7 703.1 323.4 701.3 325.3 700.1 C327.2 698.9 329.9 698.1 332.2 697.3 C334.5 696.5 336.5 696.3 339.0 695.5 C341.5 694.7 344.4 693.9 347.1 692.7 C349.8 691.6 352.4 689.7 355.1 688.6 C357.8 687.5 360.6 686.3 363.1 685.9 C365.6 685.5 367.5 685.8 370.0 686.3 C372.5 686.8 375.5 688.4 378.0 689.1 C380.5 689.8 382.3 690.7 384.8 690.5 C387.3 690.3 389.8 688.8 392.9 687.9 C396.0 687.0 400.1 685.5 403.2 685.2 C406.2 684.9 408.3 685.3 411.2 685.9 C414.1 686.5 417.4 687.2 420.3 688.6 C423.2 690.0 425.7 692.2 428.4 694.3 C431.1 696.4 433.7 698.9 436.4 701.2 C439.1 703.5 441.7 706.0 444.4 708.1 C447.1 710.2 449.5 712.1 452.4 713.8 C455.2 715.5 458.9 717.6 461.5 718.4 C464.1 719.2 465.9 719.0 468.3 718.7 C470.7 718.4 473.3 717.1 476.0 716.5 C478.7 715.9 481.8 715.1 484.3 714.8 C486.8 714.5 488.7 714.4 491.0 714.5 C493.3 714.6 496.3 715.5 498.1 715.3 C499.9 715.1 500.9 714.5 502.0 713.5 C503.1 712.5 503.8 711.8 505.0 709.5 C506.2 707.2 507.5 703.8 509.0 700.0 C510.5 696.2 512.4 690.6 514.1 686.6 C515.8 682.6 517.1 679.0 519.0 676.0 C520.9 673.0 523.6 669.5 525.6 668.3 C527.6 667.1 529.1 668.5 531.0 669.0 C532.9 669.5 535.3 670.1 537.0 671.0 C538.7 671.9 539.9 673.0 541.0 674.5 C542.1 676.0 542.9 677.4 543.9 679.8 C544.9 682.2 545.9 685.2 547.0 689.0 C548.1 692.8 549.6 698.5 550.8 702.7 C552.0 706.9 552.9 710.2 554.0 714.0 C555.1 717.8 556.5 722.5 557.6 725.6 C558.7 728.7 559.4 730.6 560.5 732.5 C561.6 734.4 563.1 736.6 564.5 737.0 C565.9 737.4 567.5 736.1 569.0 735.0 C570.5 733.9 572.3 731.7 573.7 730.1 C575.1 728.5 576.2 726.7 577.5 725.5 C578.8 724.3 580.4 723.3 581.7 722.8 C583.0 722.3 584.2 722.2 585.5 722.5 C586.8 722.8 589.0 724.1 589.7 724.4" fill="none" stroke="#6088c6" stroke-width="1.8"/>
</svg>
</body></html>
